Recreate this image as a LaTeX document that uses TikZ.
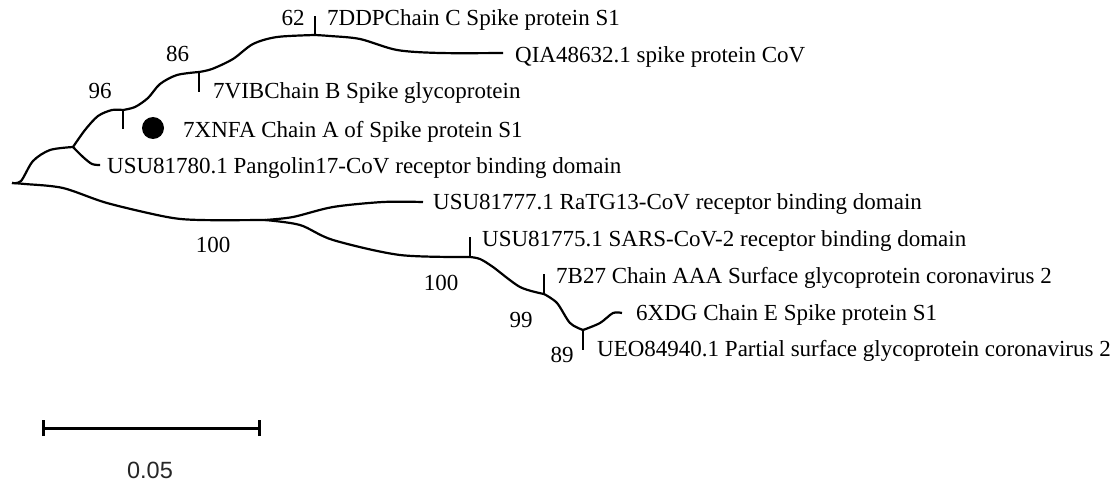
\documentclass[tikz,border=0pt]{standalone}
\usepackage{fontspec}
\setmainfont{Liberation Serif}
\newfontfamily\scalefont{Liberation Sans}
\begin{document}
\begin{tikzpicture}[x=1pt,y=-1pt,
  branch/.style={line width=2.2pt, line join=round},
  leaf/.style={anchor=base west, inner sep=0pt, font=\fontsize{23}{23}\selectfont},
  boot/.style={anchor=center, inner sep=0pt, font=\fontsize{23}{23}\selectfont},
  scalebar/.style={line width=3pt}]
\useasboundingbox (0,0) rectangle (1115,484);

% internal nodes and tips
\coordinate (root) at (12,183);
\coordinate (nA)   at (73,147);
\coordinate (n96)  at (123,110);
\coordinate (n86)  at (199,72);
\coordinate (n62)  at (315,35);
\coordinate (nD)   at (265,220);
\coordinate (nF)   at (470,257);
\coordinate (nG)   at (544,294);
\coordinate (nH)   at (583,330);

\coordinate (tPang) at (100,165);
\coordinate (tXNFA) at (123,129);
\coordinate (tVIB)  at (199,92);
\coordinate (tDDP)  at (315,16);
\coordinate (tQIA)  at (503,53);
\coordinate (tRaTG) at (423,202);
\coordinate (tSARS) at (470,237);
\coordinate (tB27)  at (544,274);
\coordinate (tXDG)  at (622,313);
\coordinate (tUEO)  at (583,350);

% upper clade
\draw[branch] plot[smooth] coordinates {(root) (21,181) (33,161) (50,150) (nA)};
\draw[branch] plot[smooth] coordinates {(nA) (83,157) (92,164) (tPang)};
\draw[branch] plot[smooth] coordinates {(nA) (85,130) (98,116) (112,110) (n96)};
\draw[branch] plot[smooth] coordinates {(n96) (135,107) (148,98) (160,84) (177,75) (n86)};
\draw[branch] plot[smooth] coordinates {(n86) (212,69) (233,59) (253,44) (277,37) (n62)};
\draw[branch] plot[smooth] coordinates {(n62) (330,36) (360,39) (397,50) (440,53) (tQIA)};
\draw[branch] (n96) -- (tXNFA);
\draw[branch] (n86) -- (tVIB);
\draw[branch] (n62) -- (tDDP);

% lower clade
\draw[branch] plot[smooth] coordinates {(root) (25,184) (63,188) (107,203) (167,217) (200,220) (nD)};
\draw[branch] plot[smooth] coordinates {(nD) (293,217) (333,207) (383,202) (tRaTG)};
\draw[branch] plot[smooth] coordinates {(nD) (300,225) (333,240) (400,255) (nF)};
\draw[branch] plot[smooth] coordinates {(nF) (480,259) (493,267) (520,287) (nG)};
\draw[branch] plot[smooth] coordinates {(nG) (557,303) (570,323) (nH)};
\draw[branch] plot[smooth] coordinates {(nH) (600,323) (613,313) (tXDG)};
\draw[branch] (nF) -- (tSARS);
\draw[branch] (nG) -- (tB27);
\draw[branch] (nH) -- (tUEO);

% highlighted sequence marker
\fill (153,128) circle (11);

% tip labels
\node[leaf] (lDDP)  at (327,25.5) {7DDPChain C Spike protein S1};
\node[leaf] (lQIA)  at (515,62.5) {QIA48632.1 spike protein CoV};
\node[leaf] (lVIB)  at (213,98.5) {7VIBChain B Spike glycoprotein};
\node[leaf] (lXNFA) at (183,137) {7XNFA Chain A of Spike protein S1};
\node[leaf] (lPang) at (107,173) {USU81780.1 Pangolin17-CoV receptor binding domain};
\node[leaf] (lRaTG) at (433,209) {USU81777.1 RaTG13-CoV receptor binding domain};
\node[leaf] (lSARS) at (482,246) {USU81775.1 SARS-CoV-2 receptor binding domain};
\node[leaf] (lB27)  at (556,283) {7B27 Chain AAA Surface glycoprotein coronavirus 2};
\node[leaf] (lXDG)  at (636,320) {6XDG Chain E Spike protein S1};
\node[leaf] (lUEO)  at (597,356) {UEO84940.1 Partial surface glycoprotein coronavirus 2};

% bootstrap values
\node[boot] (b62)  at (293,17.5) {62};
\node[boot] (b86)  at (177.5,54) {86};
\node[boot] (b96)  at (100,91) {96};
\node[boot] (b100a) at (213,245) {100};
\node[boot] (b100b) at (441,283) {100};
\node[boot] (b99)  at (521,319.5) {99};
\node[boot] (b89)  at (562,355) {89};

% scale bar
\coordinate (sL) at (43,428);
\coordinate (sR) at (259,428);
\draw[scalebar] (sL) -- (sR);
\draw[scalebar] ([yshift=-8]sL) -- ([yshift=8]sL);
\draw[scalebar] ([yshift=-8]sR) -- ([yshift=8]sR);
\node[anchor=center, inner sep=0pt, font=\scalefont\fontsize{23.5}{23.5}\selectfont, text=black!85] (scl) at (150,470.5) {0.05};
\end{tikzpicture}
\end{document}
